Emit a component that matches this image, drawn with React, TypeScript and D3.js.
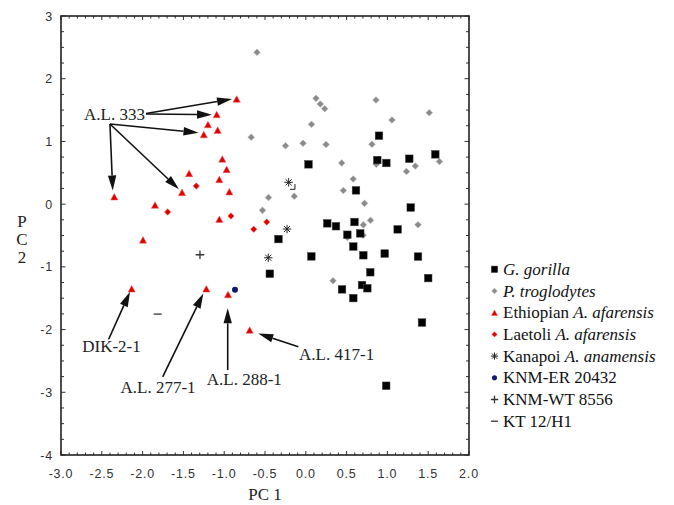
import React from "react";
import * as d3 from "d3";

// ---- Data (PC1, PC2) ----
const gorilla: [number, number][] = [
  [0.897, 1.091], [0.033, 0.635], [0.876, 0.703], [0.987, 0.656], [1.268, 0.724],
  [1.587, 0.794], [0.615, 0.22], [1.286, -0.054], [0.263, -0.306], [0.37, -0.352],
  [0.597, -0.285], [0.509, -0.488], [0.667, -0.466], [1.126, -0.402], [-0.335, -0.557],
  [0.582, -0.676], [0.705, -0.815], [0.967, -0.788], [1.375, -0.836], [0.068, -0.833],
  [-0.441, -1.11], [0.79, -1.086], [1.5, -1.179], [0.444, -1.359], [0.689, -1.29],
  [0.754, -1.341], [0.582, -1.498], [1.424, -1.888], [0.985, -2.896],
];
const troglodytes: [number, number][] = [
  [-0.598, 2.421], [0.125, 1.687], [0.178, 1.596], [0.232, 1.522], [0.07, 1.273],
  [-0.669, 1.067], [-0.249, 0.93], [-0.034, 0.971], [0.248, 0.951], [0.86, 1.66],
  [1.513, 1.458], [1.056, 1.341], [0.811, 0.954], [0.864, 0.635], [1.342, 0.608],
  [1.234, 0.52], [1.638, 0.679], [0.44, 0.656], [0.581, 0.4], [0.46, 0.217],
  [0.719, 0.013], [-0.457, 0.105], [-0.141, 0.126], [-0.531, -0.099], [0.705, -0.33],
  [0.793, -0.258], [0.703, -0.496], [0.509, -0.533], [1.375, -0.329], [0.333, -1.222],
];
const ethiopian: [number, number][] = [
  [-0.847, 1.676], [-1.092, 1.43], [-1.199, 1.27], [-1.08, 1.18], [-1.25, 1.11],
  [-1.023, 0.72], [-0.97, 0.555], [-1.43, 0.49], [-1.06, 0.395], [-0.937, 0.198],
  [-1.517, 0.188], [-2.347, 0.118], [-1.848, -0.014], [-1.06, -0.24], [-1.995, -0.57],
  [-2.134, -1.35], [-1.219, -1.35], [-0.953, -1.44], [-0.688, -2.008],
];
const laetoli: [number, number][] = [
  [-1.342, 0.289], [-1.693, -0.126], [-0.917, -0.19], [-0.638, -0.4], [-0.479, -0.285],
];
const kanapoi: [number, number][] = [[-0.21, 0.348], [-0.23, -0.397], [-0.46, -0.855]];
const knmEr20432: [number, number][] = [[-0.868, -1.365]];
const knmWt8556: [number, number][] = [[-1.297, -0.807]];
const kt12: [number, number][] = [[-1.815, -1.753]];

const xTicks = [-3.0, -2.5, -2.0, -1.5, -1.0, -0.5, 0.0, 0.5, 1.0, 1.5, 2.0];
const yTicks = [-4, -3, -2, -1, 0, 1, 2, 3];

// annotations: label position (center x, baseline y) and arrows (from -> to), in data units
const labels = [
  { text: "A.L. 333", x: -2.344, y: 1.341 },
  { text: "DIK-2-1", x: -2.381, y: -2.359 },
  { text: "A.L. 277-1", x: -1.811, y: -3.013 },
  { text: "A.L. 288-1", x: -0.754, y: -2.885 },
  { text: "A.L. 417-1", x: 0.378, y: -2.478 },
];
const arrows: [number, number, number, number][] = [
  [-1.958, 1.445, -0.904, 1.676],
  [-1.958, 1.437, -1.15, 1.426],
  [-2.4, 1.278, -1.315, 1.139],
  [-2.4, 1.278, -2.366, 0.217],
  [-2.4, 1.278, -1.554, 0.236],
  [-2.42, -2.167, -2.154, -1.397],
  [-1.754, -2.753, -1.256, -1.423],
  [-0.957, -2.646, -0.957, -1.662],
  [-0.092, -2.274, -0.582, -2.061],
];

const RED = "#e00000";
const GRAY = "#8a8a8a";
const NAVY = "#0d1a6b";
const SERIF = "'Liberation Serif', 'DejaVu Serif', serif";
const SANS = "'Liberation Sans', Arial, sans-serif";

type Kind = "square" | "diamondG" | "triangle" | "diamondR" | "asterisk" | "circle" | "plus" | "minus";

function Marker({ kind, cx, cy, s = 1 }: { kind: Kind; cx: number; cy: number; s?: number }) {
  switch (kind) {
    case "square": {
      const h = 3.8 * s;
      return <rect x={cx - h} y={cy - h} width={2 * h} height={2 * h} fill="#000" stroke="#444" strokeWidth={0.5} />;
    }
    case "diamondG": {
      const h = 3.3 * s;
      return <path d={`M${cx},${cy - h}L${cx + h},${cy}L${cx},${cy + h}L${cx - h},${cy}Z`} fill={GRAY} stroke="#aaa" strokeWidth={0.6} />;
    }
    case "diamondR": {
      const h = 3.2 * s;
      return <path d={`M${cx},${cy - h}L${cx + h},${cy}L${cx},${cy + h}L${cx - h},${cy}Z`} fill={RED} stroke="#f06060" strokeWidth={0.5} />;
    }
    case "triangle": {
      const w = 3.6 * s;
      const h = 3.3 * s;
      return <path d={`M${cx},${cy - h}L${cx + w},${cy + h}L${cx - w},${cy + h}Z`} fill={RED} stroke="#f06060" strokeWidth={0.5} />;
    }
    case "circle":
      return <circle cx={cx} cy={cy} r={3 * s} fill={NAVY} />;
    case "asterisk": {
      const r = 4.2 * s;
      const d = r * 0.72;
      return (
        <path
          d={`M${cx - r},${cy}H${cx + r}M${cx},${cy - r}V${cy + r}M${cx - d},${cy - d}L${cx + d},${cy + d}M${cx - d},${cy + d}L${cx + d},${cy - d}`}
          stroke="#222" strokeWidth={1} fill="none"
        />
      );
    }
    case "plus": {
      const r = 4.3 * s;
      return <path d={`M${cx - r},${cy}H${cx + r}M${cx},${cy - r}V${cy + r}`} stroke="#333" strokeWidth={1.3} fill="none" />;
    }
    case "minus": {
      const r = 4 * s;
      return <path d={`M${cx - r},${cy}H${cx + r}`} stroke="#333" strokeWidth={1.3} fill="none" />;
    }
  }
}

const legendItems: { kind: Kind; parts: { t: string; i?: boolean }[] }[] = [
  { kind: "square", parts: [{ t: "G. gorilla", i: true }] },
  { kind: "diamondG", parts: [{ t: "P. troglodytes", i: true }] },
  { kind: "triangle", parts: [{ t: "Ethiopian " }, { t: "A. afarensis", i: true }] },
  { kind: "diamondR", parts: [{ t: "Laetoli " }, { t: "A. afarensis", i: true }] },
  { kind: "asterisk", parts: [{ t: "Kanapoi " }, { t: "A. anamensis", i: true }] },
  { kind: "circle", parts: [{ t: "KNM-ER 20432" }] },
  { kind: "plus", parts: [{ t: "KNM-WT 8556" }] },
  { kind: "minus", parts: [{ t: "KT 12/H1" }] },
];

export default function App() {
  const x = d3.scaleLinear().domain([-3, 2]).range([61, 469]);
  const y = d3.scaleLinear().domain([-4, 3]).range([455, 16]);
  const [x0, x1] = x.range();
  const [y0, y1] = [y(3), y(-4)];

  const xMinor = d3.range(-30, 21).map((v) => v / 10);
  const yMinor = d3.range(-16, 13).map((v) => v / 4);

  const series: { kind: Kind; data: [number, number][] }[] = [
    { kind: "diamondG", data: troglodytes },
    { kind: "square", data: gorilla },
    { kind: "diamondR", data: laetoli },
    { kind: "triangle", data: ethiopian },
    { kind: "asterisk", data: kanapoi },
    { kind: "circle", data: knmEr20432 },
    { kind: "plus", data: knmWt8556 },
    { kind: "minus", data: kt12 },
  ];

  const arrowHead = (ax: number, ay: number, bx: number, by: number) => {
    const ang = Math.atan2(by - ay, bx - ax);
    const L = 15, W = 4.2;
    const px = bx - L * Math.cos(ang), py = by - L * Math.sin(ang);
    const nx = -Math.sin(ang) * W, ny = Math.cos(ang) * W;
    return { line: `M${ax},${ay}L${px},${py}`, head: `M${bx},${by}L${px + nx},${py + ny}L${px - nx},${py - ny}Z` };
  };

  return (
    <svg width={674} height={505} style={{ position: "absolute", left: 0, top: 0, background: "#fff" }}>
      {/* ticks */}
      <g stroke="#333" strokeWidth={1}>
        {xMinor.map((v, i) => {
          const major = Math.abs(v * 2 - Math.round(v * 2)) < 1e-6;
          const len = major ? 4 : 2.5;
          return (
            <g key={"xt" + i}>
              <line x1={x(v)} x2={x(v)} y1={y1} y2={y1 - len} />
              <line x1={x(v)} x2={x(v)} y1={y0} y2={y0 + len} />
            </g>
          );
        })}
        {yMinor.map((v, i) => {
          const major = Math.abs(v - Math.round(v)) < 1e-6;
          const len = major ? 4.5 : 3;
          return (
            <g key={"yt" + i}>
              <line x1={x0} x2={x0 + len} y1={y(v)} y2={y(v)} />
              <line x1={x1} x2={x1 - len} y1={y(v)} y2={y(v)} />
            </g>
          );
        })}
      </g>
      <rect x={x0} y={y0} width={x1 - x0} height={y1 - y0} fill="none" stroke="#222" strokeWidth={1.6} />

      {/* tick labels */}
      <g fontFamily={SANS} fontSize={12.5} fill="#333" letterSpacing={0.8}>
        {xTicks.map((v) => (
          <text key={"xl" + v} x={x(v)} y={478} textAnchor="middle">{v.toFixed(1)}</text>
        ))}
        {yTicks.map((v) => (
          <text key={"yl" + v} x={53} y={y(v) + 4.5} textAnchor="end">{v}</text>
        ))}
      </g>

      {/* axis titles */}
      <g fontFamily={SERIF} fontSize={17} fill="#222">
        <text x={x(-0.5)} y={500} textAnchor="middle">PC 1</text>
        <text x={22} y={227} textAnchor="middle">P</text>
        <text x={22} y={245} textAnchor="middle">C</text>
        <text x={22} y={263} textAnchor="middle">2</text>
      </g>

      {/* points */}
      {series.map((s) =>
        s.data.map((d, i) => <Marker key={s.kind + i} kind={s.kind} cx={x(d[0])} cy={y(d[1])} />)
      )}
      {/* small corner mark beside first Kanapoi point */}
      <path
        d={`M${x(kanapoi[0][0]) + 6.3},${y(kanapoi[0][1]) + 1.7}V${y(kanapoi[0][1]) + 7}H${x(kanapoi[0][0]) + 1.3}`}
        stroke="#222" strokeWidth={1} fill="none"
      />

      {/* arrows */}
      {arrows.map((a, i) => {
        const p = arrowHead(x(a[0]), y(a[1]), x(a[2]), y(a[3]));
        return (
          <g key={"ar" + i}>
            <path d={p.line} stroke="#111" strokeWidth={1.6} fill="none" />
            <path d={p.head} fill="#111" />
          </g>
        );
      })}
      <g fontFamily={SERIF} fontSize={17} fill="#222">
        {labels.map((l) => (
          <text key={l.text} x={x(l.x)} y={y(l.y)} textAnchor="middle" stroke="#fff" strokeWidth={3} paintOrder="stroke">{l.text}</text>
        ))}
      </g>

      {/* legend */}
      <g fontFamily={SERIF} fontSize={17} fill="#111">
        {legendItems.map((it, i) => {
          const cy = 269.3 + i * 21.7;
          return (
            <g key={"lg" + i}>
              <Marker kind={it.kind} cx={494.5} cy={cy} s={0.85} />
              <text x={503} y={cy + 5.5}>
                {it.parts.map((p, j) => (
                  <tspan key={j} fontStyle={p.i ? "italic" : "normal"}>{p.t}</tspan>
                ))}
              </text>
            </g>
          );
        })}
      </g>
    </svg>
  );
}
